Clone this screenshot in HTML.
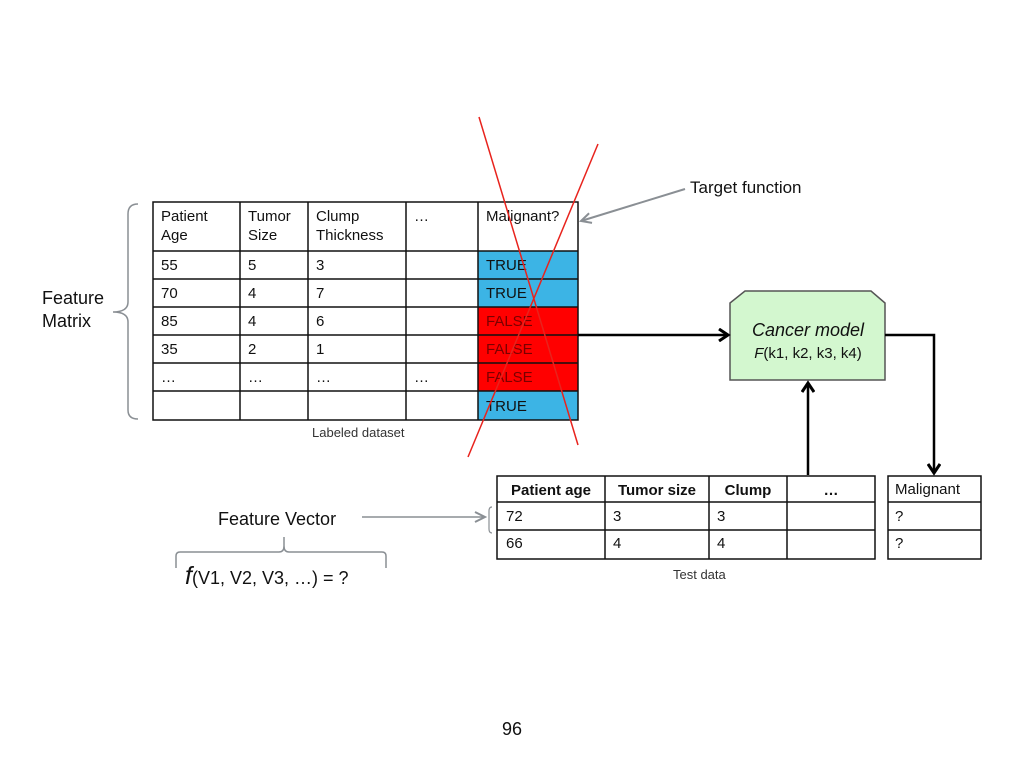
<!DOCTYPE html>
<html><head><meta charset="utf-8"><style>
html,body{margin:0;padding:0;background:#fff;}
svg{display:block;}
text{font-family:"Liberation Sans",sans-serif;}
</style></head><body>
<svg width="1024" height="768" viewBox="0 0 1024 768" xmlns="http://www.w3.org/2000/svg">
<defs>
<marker id="ab" markerWidth="14" markerHeight="14" refX="11" refY="7" orient="auto" markerUnits="userSpaceOnUse"><path d="M2,1 L11,7 L2,13" fill="none" stroke="#000" stroke-width="3"/></marker>
<marker id="ag" markerWidth="14" markerHeight="14" refX="12" refY="7" orient="auto" markerUnits="userSpaceOnUse"><path d="M2,2 L12,7 L2,12" fill="none" stroke="#8a8f94" stroke-width="2"/></marker>
</defs>
<rect x="478" y="251" width="100" height="56" fill="#3cb4e5"/>
<rect x="478" y="307" width="100" height="84" fill="#ff0000"/>
<rect x="478" y="391" width="100" height="29" fill="#3cb4e5"/>
<g stroke="#111" stroke-width="1.5" fill="none">
<rect x="153" y="202" width="425" height="218"/>
<line x1="240" y1="202" x2="240" y2="420"/><line x1="308" y1="202" x2="308" y2="420"/>
<line x1="406" y1="202" x2="406" y2="420"/><line x1="478" y1="202" x2="478" y2="420"/>
<line x1="153" y1="251" x2="578" y2="251"/><line x1="153" y1="279" x2="578" y2="279"/>
<line x1="153" y1="307" x2="578" y2="307"/><line x1="153" y1="335" x2="578" y2="335"/>
<line x1="153" y1="363" x2="578" y2="363"/><line x1="153" y1="391" x2="578" y2="391"/>
</g>
<g font-size="15" fill="#111">
<text x="161" y="221">Patient</text><text x="161" y="240">Age</text>
<text x="248" y="221">Tumor</text><text x="248" y="240">Size</text>
<text x="316" y="221">Clump</text><text x="316" y="240">Thickness</text>
<text x="414" y="221">…</text><text x="486" y="221">Malignant?</text>
<text x="161" y="270">55</text><text x="248" y="270">5</text><text x="316" y="270">3</text><text x="486" y="270">TRUE</text>
<text x="161" y="298">70</text><text x="248" y="298">4</text><text x="316" y="298">7</text><text x="486" y="298">TRUE</text>
<text x="161" y="326">85</text><text x="248" y="326">4</text><text x="316" y="326">6</text><text x="486" y="326" fill="#7a0000">FALSE</text>
<text x="161" y="354">35</text><text x="248" y="354">2</text><text x="316" y="354">1</text><text x="486" y="354" fill="#7a0000">FALSE</text>
<text x="161" y="382">…</text><text x="248" y="382">…</text><text x="316" y="382">…</text><text x="414" y="382">…</text><text x="486" y="382" fill="#7a0000">FALSE</text>
<text x="486" y="411">TRUE</text>
</g>
<text x="312" y="437" font-size="13" fill="#333">Labeled dataset</text>
<line x1="479" y1="117" x2="578" y2="445" stroke="#e8231d" stroke-width="1.5"/>
<line x1="598" y1="144" x2="468" y2="457" stroke="#e8231d" stroke-width="1.5"/>
<path d="M138,204 Q128,204 128,214 L128,302 Q128,312 113,312 Q128,312 128,322 L128,410 Q128,419 138,419" fill="none" stroke="#8a8f94" stroke-width="1.5"/>
<text x="42" y="304" font-size="18" fill="#111">Feature</text>
<text x="42" y="327" font-size="18" fill="#111">Matrix</text>
<text x="690" y="193" font-size="17" fill="#111">Target function</text>
<line x1="685" y1="189" x2="581" y2="221" stroke="#8a8f94" stroke-width="2" marker-end="url(#ag)"/>
<path d="M745,291 L871,291 L885,303 L885,380 L730,380 L730,303 Z" fill="#d3f7cf" stroke="#555" stroke-width="1.5"/>
<text x="808" y="336" font-size="18" font-style="italic" text-anchor="middle" fill="#111">Cancer model</text>
<text x="808" y="358" font-size="15" text-anchor="middle" fill="#111"><tspan font-style="italic">F</tspan>(k1, k2, k3, k4)</text>
<line x1="578" y1="335" x2="728" y2="335" stroke="#000" stroke-width="2.5" marker-end="url(#ab)"/>
<polyline points="885,335 934,335 934,473" fill="none" stroke="#000" stroke-width="2.5" marker-end="url(#ab)"/>
<line x1="808" y1="475" x2="808" y2="383" stroke="#000" stroke-width="2.5" marker-end="url(#ab)"/>
<g stroke="#111" stroke-width="1.5" fill="none">
<rect x="497" y="476" width="378" height="83"/>
<line x1="605" y1="476" x2="605" y2="559"/><line x1="709" y1="476" x2="709" y2="559"/><line x1="787" y1="476" x2="787" y2="559"/>
<line x1="497" y1="502" x2="875" y2="502"/><line x1="497" y1="530" x2="875" y2="530"/>
<rect x="888" y="476" width="93" height="83"/>
<line x1="888" y1="502" x2="981" y2="502"/><line x1="888" y1="530" x2="981" y2="530"/>
</g>
<g font-size="15" fill="#111">
<text x="551" y="495" font-weight="bold" text-anchor="middle">Patient age</text>
<text x="657" y="495" font-weight="bold" text-anchor="middle">Tumor size</text>
<text x="748" y="495" font-weight="bold" text-anchor="middle">Clump</text>
<text x="831" y="495" font-weight="bold" text-anchor="middle">…</text>
<text x="506" y="521">72</text><text x="613" y="521">3</text><text x="717" y="521">3</text>
<text x="506" y="548">66</text><text x="613" y="548">4</text><text x="717" y="548">4</text>
<text x="895" y="494">Malignant</text><text x="895" y="521">?</text><text x="895" y="548">?</text>
</g>
<text x="673" y="579" font-size="13" fill="#333">Test data</text>
<text x="218" y="525" font-size="18" fill="#111">Feature Vector</text>
<line x1="362" y1="517" x2="485" y2="517" stroke="#8a8f94" stroke-width="1.5" marker-end="url(#ag)"/>
<path d="M492,507 Q489,507 489,511 L489,529 Q489,533 492,533" fill="none" stroke="#8a8f94" stroke-width="1.2"/>
<path d="M176,568 L176,556 Q176,552 180,552 L279,552 Q284,552 284,546 L284,537 M284,546 Q284,552 289,552 L382,552 Q386,552 386,556 L386,568" fill="none" stroke="#8a8f94" stroke-width="1.5"/>
<text x="185" y="584" font-size="18" fill="#111"><tspan font-size="25" font-style="italic">f</tspan>(V1, V2, V3, …) = ?</text>
<text x="512" y="735" font-size="18" text-anchor="middle" fill="#111">96</text>
</svg>
</body></html>
